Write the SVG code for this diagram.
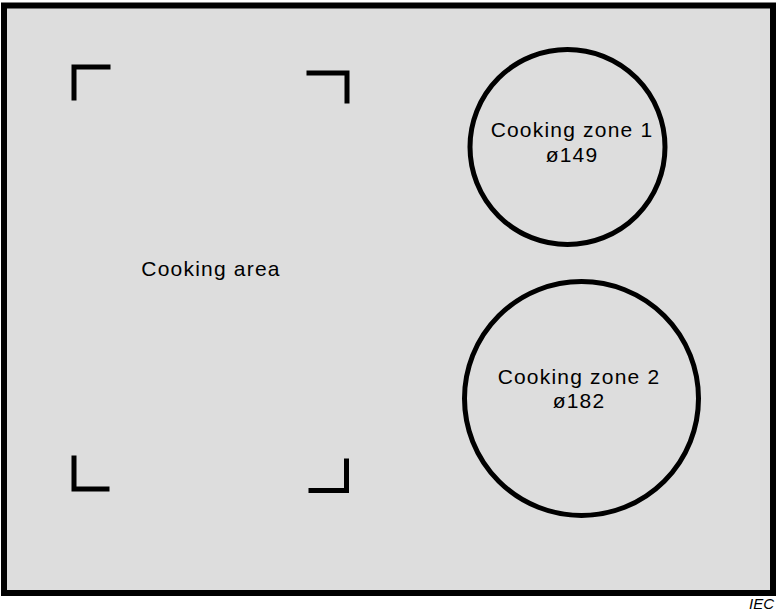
<svg xmlns="http://www.w3.org/2000/svg" width="776" height="613" viewBox="0 0 776 613">
<style>
.t{font-family:"Liberation Sans",Arial,sans-serif;font-size:21px;fill:#000;text-anchor:middle;letter-spacing:1.2px}
.m{fill:none;stroke:#000;stroke-width:5;stroke-linecap:square}
.z{fill:none;stroke:#000;stroke-width:5}
</style>
<rect width="776" height="613" fill="#fff"/>
<g id="hob">
<rect x="4" y="5.5" width="769" height="587.5" fill="#dddddd" stroke="#000" stroke-width="6"/>
</g>
<g id="cooking-area">
<path class="m" d="M108 67H74V98"/>
<path class="m" d="M309 73H347V101"/>
<path class="m" d="M74 458V489H107"/>
<path class="m" d="M311 490.5H346.5V461"/>
<text class="t" x="211" y="276">Cooking area</text>
</g>
<g id="zone1">
<circle class="z" cx="567.5" cy="147" r="97.5"/>
<text class="t" x="572" y="137">Cooking zone 1</text>
<text class="t" x="572" y="162">ø149</text>
</g>
<g id="zone2">
<circle class="z" cx="581.5" cy="398.5" r="117"/>
<text class="t" x="579" y="384">Cooking zone 2</text>
<text class="t" x="579" y="408">ø182</text>
</g>
<text x="774" y="609" font-family="'Liberation Sans',Arial,sans-serif" font-size="15" font-style="italic" text-anchor="end">IEC</text>
</svg>
